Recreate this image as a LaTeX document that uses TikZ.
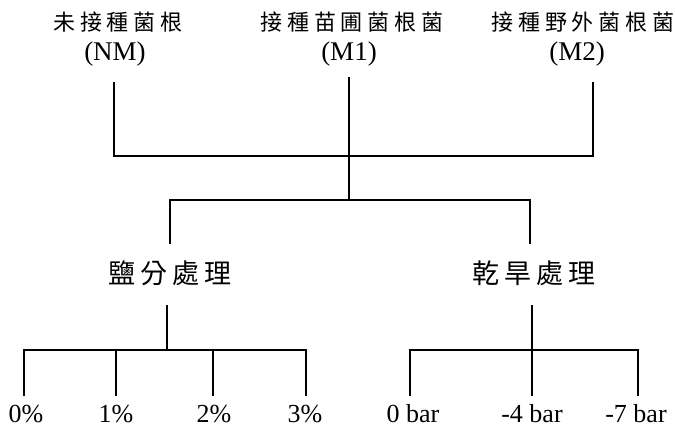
\documentclass[tikz,border=0pt]{standalone}
\usepackage{fontspec}
\setmainfont{Liberation Serif}
\newfontfamily\cjktop[LetterSpace=22]{Noto Sans CJK TC}
\newfontfamily\cjkmid[LetterSpace=18]{Noto Sans CJK TC}
\begin{document}
\begin{tikzpicture}[x=1pt,y=-1pt,
  ln/.style={line width=2.8pt, line cap=rect},
  top/.style={font=\cjktop\fontsize{22}{24}\selectfont, inner sep=0pt, anchor=center},
  code/.style={font=\fontsize{27}{28}\selectfont, inner sep=0pt, anchor=center},
  mid/.style={font=\cjkmid\fontsize{27}{29}\selectfont, inner sep=0pt, anchor=center},
  leaf/.style={font=\fontsize{26}{27}\selectfont, inner sep=0pt, anchor=center}]
\useasboundingbox (0,0) rectangle (675,431);
% top labels
\node[top] (t1) at (118,22) {未接種菌根};
\node[code] (c1) at (115,54) {(NM)};
\node[top] (t2) at (352,22) {接種苗圃菌根菌};
\node[code] (c2) at (349,54) {(M1)};
\node[top] (t3) at (583,22) {接種野外菌根菌};
\node[code] (c3) at (577,54) {(M2)};
% junction coordinates
\coordinate (a1) at (114,83);
\coordinate (a2) at (349,78);
\coordinate (a3) at (593,83);
\coordinate (h1) at (114,156);
\coordinate (h3) at (593,156);
\coordinate (j) at (349,200);
\coordinate (jl) at (170,200);
\coordinate (jr) at (530,200);
\coordinate (bl) at (170,243);
\coordinate (br) at (530,243);
\draw[ln] (a1) -- (h1) -- (h3) -- (a3);
\draw[ln] (a2) -- (j);
\draw[ln] (bl) -- (jl) -- (jr) -- (br);
% middle labels
\node[mid] (salt) at (170,273) {鹽分處理};
\node[mid] (dry) at (534,273) {乾旱處理};
% salt branch
\coordinate (s0) at (167,306);
\coordinate (s1) at (167,350);
\coordinate (sa) at (24,350);
\coordinate (sb) at (116,350);
\coordinate (sc) at (213,350);
\coordinate (sd) at (306,350);
\node[leaf] (l0) at (26,414) {0\%};
\node[leaf] (l1) at (116,414) {1\%};
\node[leaf] (l2) at (214,414) {2\%};
\node[leaf] (l3) at (305,414) {3\%};
\draw[ln] (s0) -- (s1);
\draw[ln] (sa) -- (sd);
\foreach \p in {sa,sb,sc,sd}{\draw[ln] (\p) -- (\p |- 395,395);}
% drought branch
\coordinate (d0) at (532,306);
\coordinate (d1) at (532,350);
\coordinate (da) at (410,350);
\coordinate (db) at (532,350);
\coordinate (dc) at (638,350);
\node[leaf] (m0) at (413,414) {0 bar};
\node[leaf] (m1) at (532,414) {-4 bar};
\node[leaf] (m2) at (636,414) {-7 bar};
\draw[ln] (d0) -- (d1);
\draw[ln] (da) -- (dc);
\foreach \p in {da,db,dc}{\draw[ln] (\p) -- (\p |- 395,395);}
\end{tikzpicture}
\end{document}
